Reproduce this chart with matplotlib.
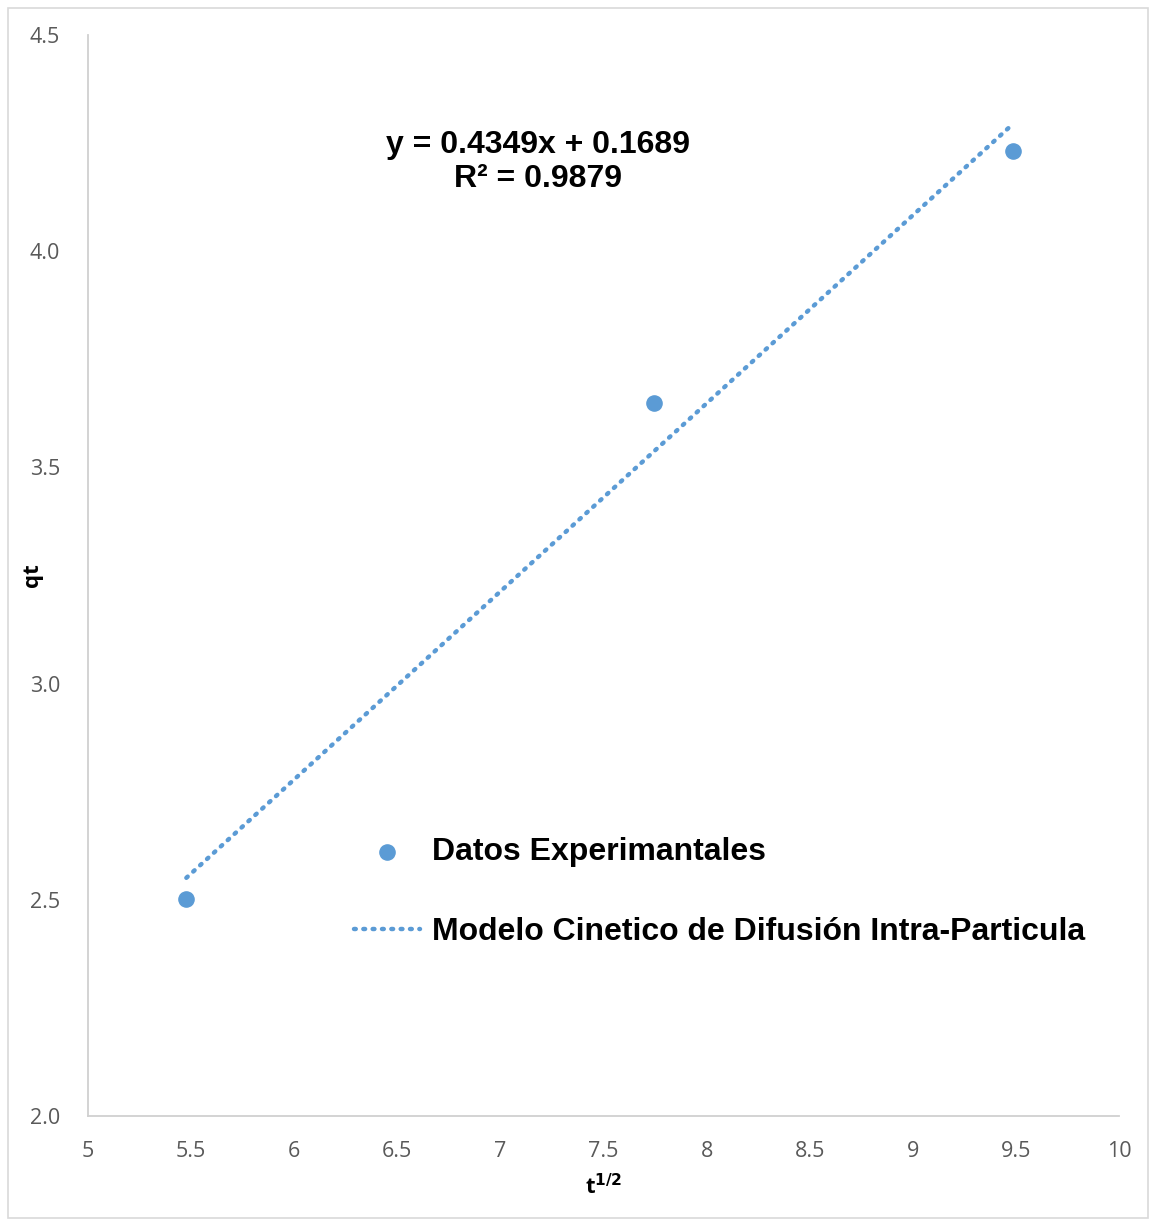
import numpy as np
import matplotlib.pyplot as plt
from matplotlib.patches import Rectangle

# raiz del tiempo (min^1/2) y capacidad de adsorcion qt
t_sqrt = [5.477, 7.746, 9.487]
qt = [2.502, 3.649, 4.232]

# ajuste lineal reportado
pendiente = 0.4349
intercepto = 0.1689
r2 = 0.9879

x_ticks = [5, 5.5, 6, 6.5, 7, 7.5, 8, 8.5, 9, 9.5, 10]
x_tick_labels = ['5', '5.5', '6', '6.5', '7', '7.5', '8', '8.5', '9', '9.5', '10']
y_ticks = [2.0, 2.5, 3.0, 3.5, 4.0, 4.5]

azul = '#5B9BD5'
gris = '#595959'

fig = plt.figure(figsize=(11.49, 12.20), dpi=100)
ax = fig.add_axes([88/1149, 1 - 1116/1220, 1031/1149, 1081/1220])

xl = np.linspace(min(t_sqrt), max(t_sqrt), 50)
ax.scatter(t_sqrt, qt, s=120, color=azul, zorder=3, label='Datos Experimantales')
ax.plot(xl, pendiente*xl + intercepto, color=azul, lw=3.2, linestyle=(0, (0.4, 1.7)),
        dash_capstyle='round', label='Modelo Cinetico de Difusión Intra-Particula')

ax.set_xlim(5, 10)
ax.set_ylim(2.0, 4.5)
ax.set_xticks(x_ticks)
ax.set_xticklabels(x_tick_labels)
ax.set_yticks(y_ticks)
ax.set_yticklabels(['%.1f' % v for v in y_ticks])
ax.tick_params(length=0, labelsize=15.5, labelcolor=gris)
ax.tick_params(axis='x', pad=18)
ax.tick_params(axis='y', pad=20)
for lab in ax.get_xticklabels() + ax.get_yticklabels():
    lab.set_family('Open Sans')

for s in ['top', 'right']:
    ax.spines[s].set_visible(False)
for s in ['left', 'bottom']:
    ax.spines[s].set_color('#D0D0D0')
    ax.spines[s].set_linewidth(1.3)

ax.set_xlabel('t$^{\\mathbf{1/2}}$', fontsize=16, fontweight='bold', family='Open Sans')
ax.set_ylabel('qt', fontsize=16, fontweight='bold', family='Open Sans')
ax.xaxis.set_label_coords((604 - 88)/1031, -(1187 - 1116)/1081)
ax.yaxis.set_label_coords(-(88 - 33)/1031, (1116 - 575)/1081)
ax.xaxis.label.set_va('center')
ax.yaxis.label.set_va('center')

ax.text(538/1149, 1 - 162/1220,
        'y = %.4fx + %.4f\nR² = %.4f' % (pendiente, intercepto, r2),
        transform=fig.transFigure, ha='center', va='center', fontsize=23,
        fontweight='bold', family='Liberation Sans', linespacing=1.2)

leg = ax.legend(loc='upper left', bbox_to_anchor=(354/1149, 1 - 837/1220),
                bbox_transform=fig.transFigure, frameon=False,
                prop={'family': 'Liberation Sans', 'weight': 'bold', 'size': 23},
                handlelength=2.06, handletextpad=0.38, labelspacing=1.57,
                borderpad=0, borderaxespad=0, markerscale=1.0)

# marco exterior del grafico
fig.add_artist(Rectangle((8/1149, 2/1220), 1140/1149, 1210/1220, transform=fig.transFigure,
                         fill=False, edgecolor='#D9D9D9', lw=1.2))

fig.savefig('out.png', dpi=100)
